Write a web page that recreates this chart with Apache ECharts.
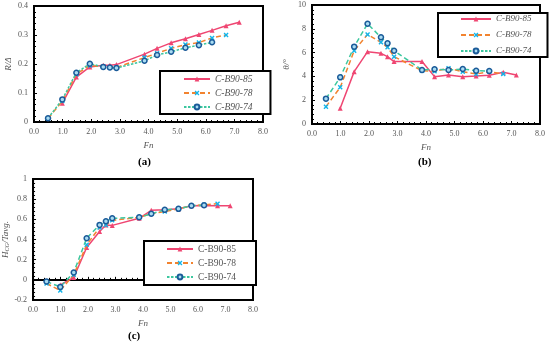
<!DOCTYPE html>
<html><head><meta charset="utf-8">
<script src="https://cdn.jsdelivr.net/npm/echarts@6/dist/echarts.min.js"></script>
<style>html,body{margin:0;padding:0;background:#fff}#c{width:550px;height:344px}</style>
</head><body><div id="c"></div>
<script>
// Shared Froude numbers
const fn = [0.49, 0.99, 1.48, 1.95, 2.42, 2.65, 2.88, 3.86, 4.30, 4.79, 5.29, 5.76, 6.22, 6.71, 7.17];
const seriesNames = ['C-B90-85', 'C-B90-78', 'C-B90-74'];
// (a) R/Δ
const a85 = [null, 0.065, 0.155, 0.190, 0.196, 0.196, 0.198, 0.234, 0.254, 0.273, 0.287, 0.302, 0.316, 0.332, 0.344];
const a78 = [0.012, 0.072, 0.165, 0.195, 0.190, 0.188, 0.188, 0.222, 0.237, 0.254, 0.267, 0.274, 0.290, 0.300];
const a74 = [0.013, 0.078, 0.170, 0.201, 0.190, 0.188, 0.186, 0.211, 0.231, 0.242, 0.256, 0.265, 0.275];
// (b) θ/°
const b85 = [null, 1.32, 4.40, 6.08, 5.94, 5.66, 5.25, 5.25, 3.98, 4.12, 3.98, 4.03, 4.09, 4.35, 4.12];
const b78 = [1.46, 3.08, 6.16, 7.53, 6.86, 6.44, 5.66, 4.48, 4.43, 4.68, 4.40, 4.20, 4.40, 4.20];
const b74 = [2.13, 3.92, 6.50, 8.43, 7.28, 6.78, 6.16, 4.54, 4.60, 4.54, 4.62, 4.48, 4.45];
// (c) H_CG/Tavg.
const c85 = [null, -0.050, 0.023, 0.320, 0.480, 0.545, 0.540, 0.610, 0.690, 0.695, 0.704, 0.734, 0.737, 0.734, 0.734];
const c78 = [-0.036, -0.105, 0.050, 0.347, 0.520, 0.545, 0.590, 0.620, 0.655, 0.678, 0.704, 0.734, 0.744, 0.754];
const c74 = [-0.017, -0.070, 0.073, 0.413, 0.545, 0.580, 0.610, 0.620, 0.655, 0.694, 0.704, 0.734, 0.740];
// tick settings
const xTicks = {min: 0, max: 8, interval: 1};
const yA = {min: 0, max: 0.4, interval: 0.1};
const yB = {min: 0, max: 10, interval: 2};
const yC = {min: -0.2, max: 1, interval: 0.2};

const pairs = arr => arr.map((v, i) => v == null ? null : [fn[i], v]).filter(p => p);
const SERIF = 'Liberation Serif';
const RED = '#ef4672', ORANGE = '#f2832f', TEAL = '#3cc79f', CYAN = '#13b5ea', NAVY = '#1b5b99';
const XSYM = 'path://M0,2 L2,0 L5,3 L8,0 L10,2 L7,5 L10,8 L8,10 L5,7 L2,10 L0,8 L3,5 Z';

function mkSeries(g, d85, d78, d74, dotted74) {
  return [
    {name: seriesNames[0], type: 'line', xAxisIndex: g, yAxisIndex: g, data: pairs(d85),
     lineStyle: {color: RED, width: 1.5}, symbol: 'triangle', symbolSize: 5,
     itemStyle: {color: RED}, z: 3},
    {name: seriesNames[1], type: 'line', xAxisIndex: g, yAxisIndex: g, data: pairs(d78),
     lineStyle: {color: ORANGE, width: 1.5, type: [5, 3]}, symbol: XSYM, symbolSize: 5,
     itemStyle: {color: CYAN}, z: 4},
    {name: seriesNames[2], type: 'line', xAxisIndex: g, yAxisIndex: g, data: pairs(d74),
     lineStyle: {color: TEAL, width: 1.5, type: dotted74 ? [2.5, 1.5] : [5, 3]}, symbol: 'circle', symbolSize: 5,
     itemStyle: {color: '#a9dcf2', borderColor: NAVY, borderWidth: 1.5}, z: 5}
  ];
}

function mkX(g) {
  return Object.assign({type: 'value', gridIndex: g, name: 'Fn', nameLocation: 'middle', nameGap: 19,
    nameTextStyle: {fontFamily: SERIF, fontStyle: 'italic', fontSize: 9, color: '#555'},
    axisLine: {lineStyle: {color: '#000', width: 2}},
    axisTick: {inside: true, length: 3, lineStyle: {color: '#000'}},
    minorTick: {show: true, splitNumber: 5, length: 2, lineStyle: {color: '#000'}},
    splitLine: {show: false},
    axisLabel: {fontFamily: SERIF, fontSize: 8, color: '#555', margin: 6, formatter: v => v.toFixed(1)}
  }, xTicks);
}
function mkY(g, t, name) {
  return Object.assign({type: 'value', gridIndex: g, name: name, nameLocation: 'middle', nameGap: 21,
    nameTextStyle: {fontFamily: SERIF, fontStyle: 'italic', fontSize: 9, color: '#555',
      rich: {i: {fontFamily: SERIF, fontStyle: 'italic', fontSize: 9, color: '#555'},
             s: {fontFamily: SERIF, fontStyle: 'italic', fontSize: 6, color: '#555', verticalAlign: 'bottom', padding: [4, 0, 0, 0]}}},
    axisLine: {lineStyle: {color: '#000', width: 2}},
    axisTick: {inside: true, length: 3, lineStyle: {color: '#000'}},
    minorTick: {show: true, splitNumber: 5, length: 2, lineStyle: {color: '#000'}},
    splitLine: {show: false},
    axisLabel: {fontFamily: SERIF, fontSize: 8, color: '#555', margin: 6}
  }, t);
}
function mkLegend(pos, padding, gap, fs, italic, iw) {
  return Object.assign({orient: 'vertical', data: seriesNames, itemWidth: iw, itemHeight: 6, itemGap: gap,
    padding: padding, borderColor: '#000', borderWidth: 2, backgroundColor: '#fff',
    textStyle: {fontFamily: SERIF, fontStyle: italic ? 'italic' : 'normal', fontSize: fs, lineHeight: 10, color: '#555'},
    selectedMode: false}, pos);
}

const chart = echarts.init(document.getElementById('c'), null, {renderer: 'canvas'});
chart.setOption({
  animation: false,
  backgroundColor: '#fff',
  title: [
    {text: '(a)', left: 138, top: 157, textStyle: {fontFamily: SERIF, fontWeight: 'bold', fontSize: 11, color: '#000'}, padding: 0},
    {text: '(b)', left: 418, top: 157, textStyle: {fontFamily: SERIF, fontWeight: 'bold', fontSize: 11, color: '#000'}, padding: 0},
    {text: '(c)', left: 128, top: 331, textStyle: {fontFamily: SERIF, fontWeight: 'bold', fontSize: 11, color: '#000'}, padding: 0}
  ],
  grid: [
    {left: 34, top: 6, width: 229, height: 116, show: true, borderColor: '#000', borderWidth: 2},
    {left: 312, top: 5, width: 228, height: 119, show: true, borderColor: '#000', borderWidth: 2},
    {left: 30, top: 179, width: 223, height: 121, show: true, borderColor: '#000', borderWidth: 2}
  ],
  xAxis: [mkX(0), mkX(1), mkX(2)],
  yAxis: [mkY(0, yA, 'R/Δ'), mkY(1, yB, 'θ/°'), mkY(2, yC, '{i|H}{s|CG}{i|/Tavg.}')],
  legend: [
    mkLegend({left: 160, top: 71}, [3, 18, 2, 23], 4, 9.5, true, 26),
    mkLegend({left: 438, top: 13}, [1, 16, 1, 22], 6, 9, true, 30),
    mkLegend({left: 144, top: 241}, [3, 20, 3, 22], 4, 9.5, false, 26)
  ],
  series: [].concat(mkSeries(0, a85, a78, a74, true), mkSeries(1, b85, b78, b74, false), mkSeries(2, c85, c78, c74, false))
});
</script></body></html>
